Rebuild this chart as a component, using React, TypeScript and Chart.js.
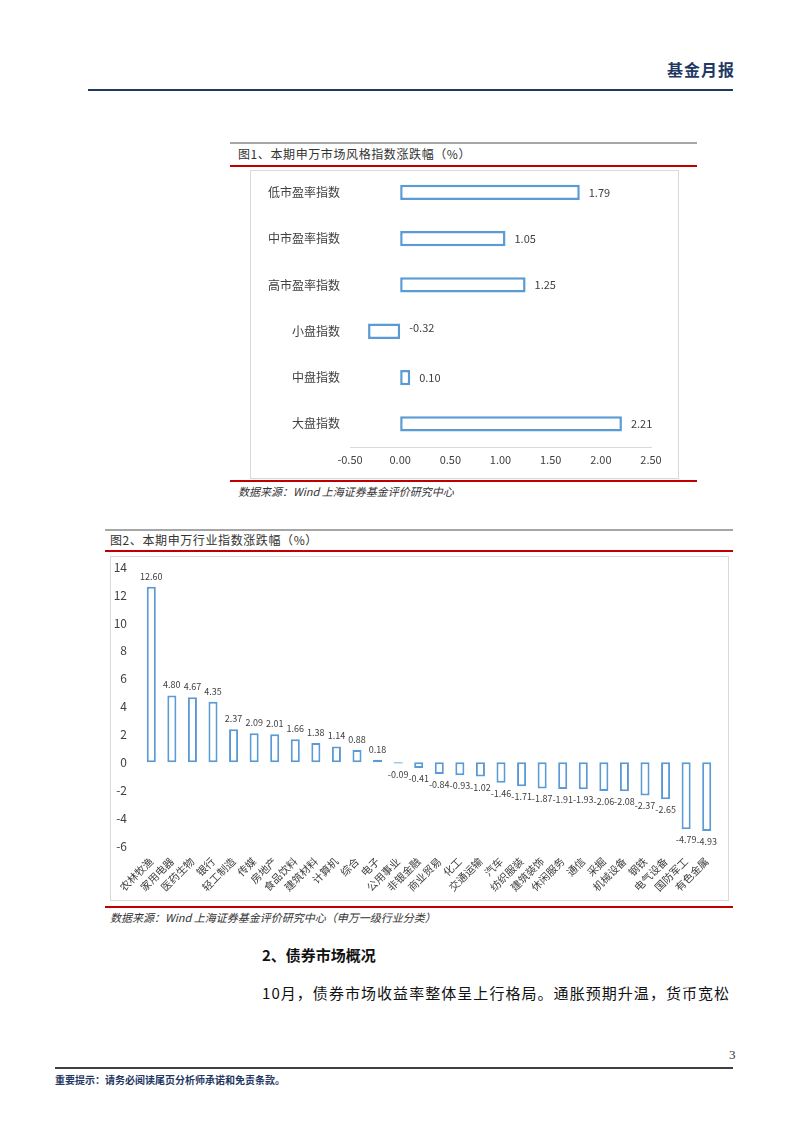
import React, { useEffect, useRef } from "react";
import { Chart, registerables } from "chart.js";

Chart.register(...registerables);

const styleCategories = ["低市盈率指数", "中市盈率指数", "高市盈率指数", "小盘指数", "中盘指数", "大盘指数"];
const styleValues = [1.79, 1.05, 1.25, -0.32, 0.1, 2.21];

const industryCategories = [
  "农林牧渔", "家用电器", "医药生物", "银行", "轻工制造", "传媒", "房地产", "食品饮料", "建筑材料", "计算机",
  "综合", "电子", "公用事业", "非银金融", "商业贸易", "化工", "交通运输", "汽车", "纺织服装", "建筑装饰",
  "休闲服务", "通信", "采掘", "机械设备", "钢铁", "电气设备", "国防军工", "有色金属",
];
const industryValues = [
  12.6, 4.8, 4.67, 4.35, 2.37, 2.09, 2.01, 1.66, 1.38, 1.14,
  0.88, 0.18, -0.09, -0.41, -0.84, -0.93, -1.02, -1.46, -1.71, -1.87,
  -1.91, -1.93, -2.06, -2.08, -2.37, -2.65, -4.79, -4.93,
];

const FONT = "'Noto Sans CJK SC', 'Noto Sans', sans-serif";
const BLUE = "#5B9BD5";
const TEXT = "#404040";

const labelPlugin = {
  id: "valueLabels",
  afterDatasetsDraw(chart: any, _args: any, opts: any) {
    const ctx = chart.ctx;
    const meta = chart.getDatasetMeta(0);
    const data = chart.data.datasets[0].data as number[];
    const horizontal = chart.options.indexAxis === "y";
    ctx.save();
    ctx.fillStyle = TEXT;
    ctx.font = `${opts.size || 11}px ${FONT}`;
    meta.data.forEach((el: any, i: number) => {
      const v = data[i];
      const txt = v.toFixed(2);
      if (horizontal) {
        ctx.textAlign = "left";
        ctx.textBaseline = "middle";
        ctx.fillText(txt, Math.max(el.x, el.base) + 9, el.y - (v < 0 ? 3 : 0));
      } else {
        ctx.textAlign = "center";
        if (v >= 0) {
          ctx.textBaseline = "bottom";
          ctx.fillText(txt, el.x, el.y - 6);
        } else {
          ctx.textBaseline = "top";
          ctx.fillText(txt, el.x, el.y + 6);
        }
      }
    });
    ctx.restore();
  },
};

function StyleChart() {
  const ref = useRef<HTMLCanvasElement>(null);
  useEffect(() => {
    const chart = new Chart(ref.current!, {
      type: "bar",
      data: {
        labels: styleCategories,
        datasets: [
          {
            data: styleValues,
            backgroundColor: "#ffffff",
            borderColor: BLUE,
            borderWidth: 2.5,
            borderSkipped: false,
            categoryPercentage: 1,
            barPercentage: 0.33,
          },
        ],
      },
      options: {
        indexAxis: "y",
        animation: false,
        responsive: false,
        maintainAspectRatio: false,
        layout: { padding: { top: 0, right: 26, left: 0, bottom: 0 } },
        plugins: { legend: { display: false }, tooltip: { enabled: false }, valueLabels: { size: 11 } } as any,
        scales: {
          x: {
            min: -0.5,
            max: 2.5,
            grid: { display: false, drawTicks: false },
            border: { display: true, color: "#d9d9d9", width: 1 },
            ticks: {
              stepSize: 0.5,
              color: TEXT,
              font: { family: FONT, size: 11 },
              padding: 6,
              callback: (v: any) => Number(v).toFixed(2),
            },
            afterFit: (s: any) => { s.height = 30; },
          },
          y: {
            grid: { display: false, drawTicks: false },
            border: { display: false },
            ticks: { color: TEXT, font: { family: FONT, size: 12 }, padding: 10 },
            afterFit: (s: any) => { s.width = 99; },
          },
        },
      },
      plugins: [labelPlugin],
    });
    return () => chart.destroy();
  }, []);
  return <canvas ref={ref} width={426} height={325} style={{ position: "absolute", left: 251, top: 152, width: 426, height: 325 }} />;
}

function IndustryChart() {
  const ref = useRef<HTMLCanvasElement>(null);
  useEffect(() => {
    const chart = new Chart(ref.current!, {
      type: "bar",
      data: {
        labels: industryCategories,
        datasets: [
          {
            data: industryValues,
            backgroundColor: "#ffffff",
            borderColor: BLUE,
            borderWidth: 2,
            borderSkipped: false,
            categoryPercentage: 1,
            barPercentage: 0.44,
          },
        ],
      },
      options: {
        animation: false,
        responsive: false,
        maintainAspectRatio: false,
        layout: { padding: { top: 0, right: 10, left: 0, bottom: 0 } },
        plugins: { legend: { display: false }, tooltip: { enabled: false }, valueLabels: { size: 9 } } as any,
        scales: {
          x: {
            grid: { display: false, drawTicks: false },
            border: { display: false },
            ticks: {
              color: TEXT,
              font: { family: FONT, size: 10.5 },
              minRotation: 45,
              maxRotation: 45,
              autoSkip: false,
              padding: 9,
            },
            afterFit: (s: any) => { s.height = 53; },
          },
          y: {
            min: -6,
            max: 14,
            grid: { display: false, drawTicks: false },
            border: { display: false },
            ticks: { stepSize: 2, color: TEXT, font: { family: FONT, size: 12 }, padding: 14 },
            afterFit: (s: any) => { s.width = 30; },
          },
        },
      },
      plugins: [labelPlugin],
    });
    return () => chart.destroy();
  }, []);
  return <canvas ref={ref} width={616} height={353} style={{ position: "absolute", left: 111, top: 546, width: 616, height: 353 }} />;
}

const abs = (s: React.CSSProperties): React.CSSProperties => ({ position: "absolute", ...s });
const hline = (x1: number, x2: number, y: number, color: string, h = 2) => (
  <div style={abs({ left: x1, top: y - h / 2, width: x2 - x1, height: h, background: color })} />
);
const text = (x: number, y: number, content: string, st: React.CSSProperties) => (
  <div style={abs({ left: x, top: y, whiteSpace: "nowrap", lineHeight: 1, fontFamily: FONT, ...st })}>{content}</div>
);

export default function App() {
  return (
    <div style={abs({ left: 0, top: 0, width: 802, height: 1133, background: "#fff", overflow: "hidden" })}>
      {text(667, 61, "基金月报", { fontSize: 16, fontWeight: 700, color: "#1F3864", letterSpacing: 1 })}
      {hline(88, 733, 90, "#1F3864", 2)}

      {hline(230, 697, 143, "#a6a6a6", 2)}
      {text(238, 148, "图1、本期申万市场风格指数涨跌幅（%）", { fontSize: 12, color: "#333", letterSpacing: 0.6 })}
      {hline(230, 697, 166, "#C00000", 2)}
      <div style={abs({ left: 250, top: 170, width: 427, height: 307, border: "1px solid #d9d9d9" })} />
      <StyleChart />
      {hline(230, 697, 481, "#C00000", 2)}
      {text(238, 486, "数据来源：Wind 上海证券基金评价研究中心", { fontSize: 11, color: "#333", fontStyle: "italic" })}

      {hline(105, 733, 530, "#a6a6a6", 2)}
      {text(110, 534, "图2、本期申万行业指数涨跌幅（%）", { fontSize: 12, color: "#333", letterSpacing: 0.6 })}
      {hline(105, 733, 551, "#C00000", 2)}
      <div style={abs({ left: 110, top: 556, width: 617, height: 343, border: "1px solid #d9d9d9" })} />
      <IndustryChart />
      {hline(105, 733, 907, "#C00000", 2)}
      {text(110, 912, "数据来源：Wind 上海证券基金评价研究中心（申万一级行业分类）", { fontSize: 11, color: "#333", fontStyle: "italic" })}

      {text(262, 947, "2、债券市场概况", { fontSize: 15, fontWeight: 700, color: "#111" })}
      {text(262, 985, "10月，债券市场收益率整体呈上行格局。通胀预期升温，货币宽松", { fontSize: 15, color: "#111", letterSpacing: 1.05 })}

      {text(729, 1048, "3", { fontSize: 13, color: "#333", fontFamily: "'Liberation Serif', serif" })}
      {hline(55, 733, 1068, "#404040", 1.5)}
      {text(55, 1075, "重要提示：请务必阅读尾页分析师承诺和免责条款。", { fontSize: 10, fontWeight: 700, color: "#1F3864" })}
    </div>
  );
}
